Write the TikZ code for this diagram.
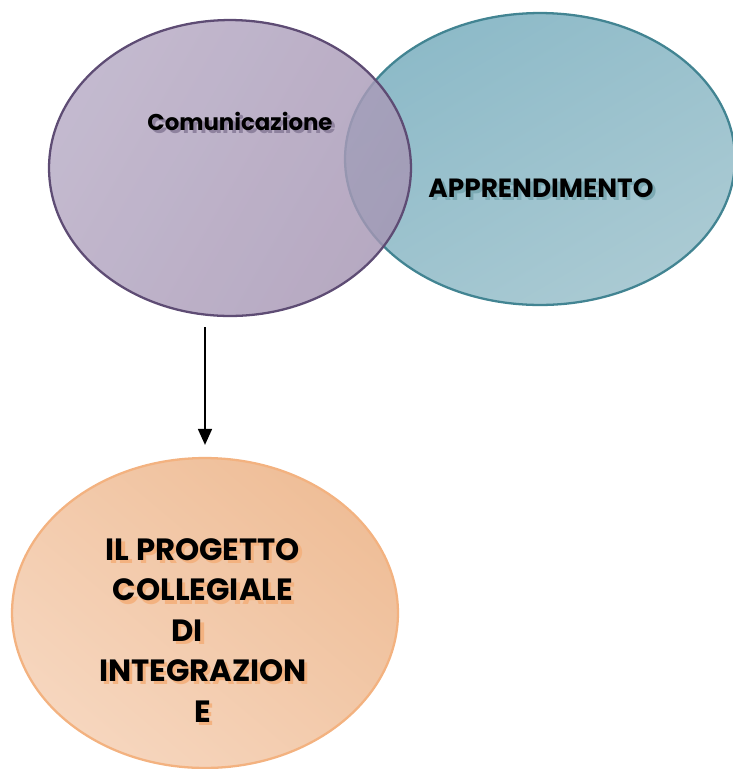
\documentclass[tikz,border=0pt]{standalone}
\usepackage{fontspec}
\setmainfont{Poppins}
\usetikzlibrary{shapes.geometric,arrows.meta,positioning,calc}
\definecolor{venpurple}{RGB}{166,150,180}
\definecolor{venpurplelt}{RGB}{182,170,196}
\definecolor{venpurpledk}{RGB}{94,76,116}
\definecolor{venteal}{RGB}{141,186,200}
\definecolor{ventealt}{RGB}{170,202,211}
\definecolor{ventealdk}{RGB}{66,132,146}
\definecolor{projorange}{RGB}{239,190,152}
\definecolor{projorangelt}{RGB}{246,214,190}
\definecolor{projorangedk}{RGB}{243,178,128}
\newcommand{\shtext}[2]{\makebox[0pt][l]{\hspace{1.8pt}\raisebox{-1.8pt}{\textcolor{#1}{#2}}}#2}
\tikzset{
	every node/.style={font=\bfseries\fontsize{15}{23}\selectfont}
}
\tikzset{
	x=0.02cm,y=-0.02cm,
	circ node/.style={ellipse,inner sep=0pt,line width=1.3pt},
	flow/.style={-{Triangle[width=0.28cm,length=0.32cm]},line width=1pt,black}
}

\begin{document}
\begin{tikzpicture}
      \useasboundingbox (0,0) rectangle (733,769);
      \node[circ node,draw=ventealdk,left color=venteal,right color=ventealt,shading angle=30,
            minimum width=7.8cm,minimum height=5.84cm] (app) at (540,159) {};
      \node[circ node,draw=venpurpledk,left color=venpurplelt,right color=venpurple,shading angle=60,
            fill opacity=0.82,minimum width=7.24cm,minimum height=5.92cm] (com) at (230,168) {};
      \node[circ node,draw=projorangedk,left color=projorange,right color=projorangelt,shading angle=-40,
            minimum width=7.72cm,minimum height=6.2cm] (pro) at (205,613) {};
      \node[font=\bfseries\fontsize{13}{16}\selectfont] (comtxt) at (240,123) {\shtext{venpurpledk!70}{Comunicazione}};
      \node (apptxt) at (541,190) {\shtext{ventealdk!70}{APPRENDIMENTO}};
      \node[align=center,font=\bfseries\fontsize{17.5}{23}\selectfont] (protxt) at (203,632) {%
        \shtext{projorangedk}{IL PROGETTO}\\
        \shtext{projorangedk}{COLLEGIALE}\\
        \shtext{projorangedk}{DI}\hphantom{DI}\\
        \shtext{projorangedk}{INTEGRAZION}\\
        \shtext{projorangedk}{E}};
      \draw[flow,shorten <=0.2cm,shorten >=0.24cm] (com.south -| pro.north) -- (pro.north);
\end{tikzpicture}
\end{document}
